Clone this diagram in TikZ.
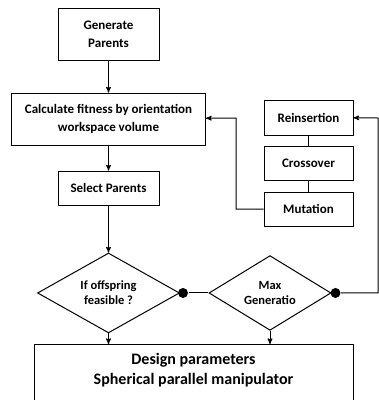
\documentclass[tikz,border=0pt]{standalone}
\usepackage{fontspec}
\setmainfont{Carlito}
\usetikzlibrary{shapes, arrows, positioning}

\begin{document}
\begin{tikzpicture}[x=1pt, y=-1pt, >=stealth', line width=1pt, node distance=25pt]
\tikzstyle{every node}=[font=\fontsize{13}{18}\selectfont\bfseries]
\tikzstyle{block}=[rectangle, draw, align=center, inner sep=0pt]
\tikzstyle{decision}=[diamond, draw, align=center, inner sep=0pt, font=\fontsize{12.5}{15}\selectfont\bfseries]
\tikzstyle{dot}=[circle, fill, inner sep=0pt, minimum size=10pt]
\useasboundingbox (0,0) rectangle (379,400);

\node[block, minimum width=101pt, minimum height=52pt](gen) at (108.5,34) {Generate\\Parents};
\node[block, minimum width=194pt, minimum height=52pt](calc)[below=32pt of gen] {Calculate fitness by orientation\\workspace volume};
\node[block, minimum width=101pt, minimum height=34pt](sel)[below=25pt of calc] {Select Parents};
\node[decision, minimum width=142pt, minimum height=71pt](feas)[below=47pt of sel] {If offspring\\feasible ?};
\node[dot](d1) at ([xshift=3pt]feas.east) {};
\node[decision, minimum width=122pt, minimum height=65pt](maxgen)[right=20pt of d1] {Max\\Generatio};
\node[dot](d2) at ([xshift=4pt]maxgen.east) {};
\node[block, minimum width=319pt, anchor=north, inner ysep=9pt, font=\fontsize{16}{20}\selectfont\bfseries](design) at (193.5,344) {Design parameters\\Spherical parallel manipulator\\[30pt]~};

\node[block, minimum width=89pt, minimum height=35pt](reins) at (308.5,117.5) {Reinsertion};
\node[block, minimum width=89pt, minimum height=34pt](cross)[below=10pt of reins] {Crossover};
\node[block, minimum width=89pt, minimum height=34pt](mut)[below=11pt of cross] {Mutation};
\coordinate (rtop) at (378,118);
\coordinate (turn) at (236,118);

\draw[->] (gen) -- (calc);
\draw[->] (calc) -- (sel);
\draw[->] (sel) -- (feas);
\draw[->] (feas) -- (feas |- design.north);
\draw[->] (maxgen) -- (maxgen |- design.north);
\draw (d1) -- (maxgen);
\draw[->] (d2) -| (rtop) -- (reins);
\draw (reins) -- (cross);
\draw (cross) -- (mut);
\draw[->] (mut) -| (turn) -- (calc);

\end{tikzpicture}
\end{document}
